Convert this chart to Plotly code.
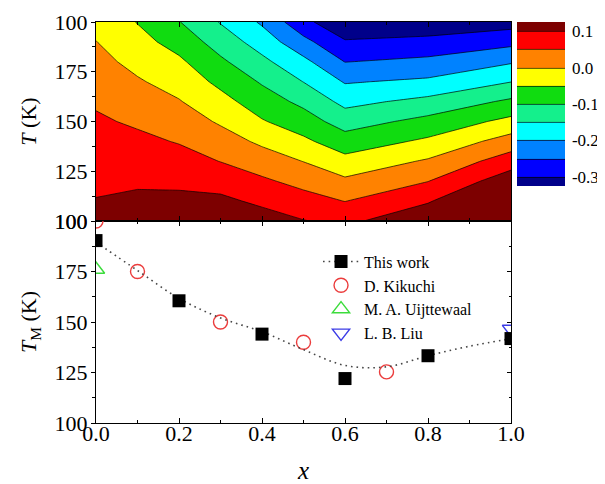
import plotly.graph_objects as go

# ---------------- data ----------------
# contour map (top panel): z values on a (T, x) grid
x_grid = [0.0, 0.1, 0.2, 0.3, 0.4, 0.5, 0.6, 0.8, 1.0]
T_grid = [100, 110, 120, 130, 140, 150, 160, 170, 180, 190, 200]
z_T100 = [0.114, 0.126, 0.134, 0.141, 0.123, 0.102, 0.088, 0.141, 0.239]
z_T110 = [0.102, 0.110, 0.112, 0.111, 0.090, 0.069, 0.049, 0.095, 0.185]
z_T120 = [0.091, 0.093, 0.090, 0.080, 0.058, 0.035, 0.009, 0.049, 0.130]
z_T130 = [0.080, 0.077, 0.069, 0.049, 0.025, -0.001, -0.034, 0.006, 0.076]
z_T140 = [0.068, 0.061, 0.047, 0.022, -0.009, -0.040, -0.078, -0.041, 0.022]
z_T150 = [0.057, 0.043, 0.025, -0.006, -0.046, -0.077, -0.122, -0.085, -0.036]
z_T160 = [0.044, 0.024, 0.003, -0.033, -0.076, -0.112, -0.164, -0.136, -0.091]
z_T170 = [0.030, 0.005, -0.019, -0.062, -0.105, -0.151, -0.204, -0.191, -0.151]
z_T180 = [0.015, -0.014, -0.041, -0.091, -0.138, -0.187, -0.251, -0.238, -0.205]
z_T190 = [0.001, -0.033, -0.069, -0.122, -0.172, -0.235, -0.295, -0.286, -0.264]
z_T200 = [-0.014, -0.052, -0.098, -0.153, -0.207, -0.286, -0.341, -0.334, -0.321]
z_rows = [z_T100, z_T110, z_T120, z_T130, z_T140, z_T150,
          z_T160, z_T170, z_T180, z_T190, z_T200]

level_start, level_end, level_step = -0.3, 0.1, 0.05
band_colors = ["#00008a", "#0000ff", "#0082ff", "#00ffff", "#14f08c",
               "#10dc10", "#ffff00", "#ff8200", "#ff0000", "#7d0000"]
cbar_tickvals = [-0.3, -0.2, -0.1, 0.0, 0.1]
cbar_ticktext = ["-0.3", "-0.2", "-0.1", "0.0", "0.1"]

# axes ticks
y_tickvals = [100, 125, 150, 175, 200]
y_ticktext = ["100", "125", "150", "175", "100"]
y_minor = [112.5, 137.5, 162.5, 187.5]
x_tickvals = [0.0, 0.2, 0.4, 0.6, 0.8, 1.0]
x_ticktext = ["0.0", "0.2", "0.4", "0.6", "0.8", "1.0"]
x_minor = [0.1, 0.3, 0.5, 0.7, 0.9]

# bottom panel: transition temperatures
this_x = [0.0, 0.2, 0.4, 0.6, 0.8, 1.0]
this_T = [190.3, 160.5, 144.0, 122.0, 133.3, 141.8]
fit_x = [0.0, 0.1, 0.2, 0.3, 0.4, 0.5, 0.6, 0.7, 0.8, 0.9, 1.0]
fit_T = [189.5, 175.5, 161.7, 152.0, 145.2, 136.3, 128.5, 127.8, 133.3, 138.0, 141.7]
kikuchi_x = [0.0, 0.1, 0.3, 0.5, 0.7]
kikuchi_T = [200.0, 175.0, 150.0, 140.0, 125.3]
uij_x = [0.0]
uij_T = [176.0]
liu_x = [1.0]
liu_T = [146.5]

# ---------------- figure ----------------
FONT = "Liberation Serif"
n = len(band_colors)
colorscale = [[i / (n - 1), c] for i, c in enumerate(band_colors)]

fig = go.Figure()

fig.add_trace(go.Contour(
    x=x_grid, y=T_grid, z=z_rows,
    xaxis="x", yaxis="y",
    colorscale=colorscale,
    autocontour=False,
    contours=dict(start=level_start, end=level_end, size=level_step,
                  coloring="fill", showlines=True),
    line=dict(color="rgba(0,0,0,0.85)", width=0.8, smoothing=0),
    colorbar=dict(
        x=1.0145, xanchor="left", xpad=0,
        y=1.0, yanchor="top", ypad=0,
        thickness=48, thicknessmode="pixels",
        len=164, lenmode="pixels",
        outlinewidth=0,
        tickmode="array", tickvals=cbar_tickvals, ticktext=cbar_ticktext,
        ticks="outside", ticklen=4, tickcolor="rgba(0,0,0,0)",
        tickfont=dict(family=FONT, size=17, color="black"),
    ),
    hoverinfo="skip",
))

# Liu first so the square covers it
fig.add_trace(go.Scatter(
    x=liu_x, y=liu_T, xaxis="x2", yaxis="y2", mode="markers",
    name="L. B. Liu",
    marker=dict(symbol="triangle-down-open", size=15,
                color="rgb(60,60,230)", line=dict(width=1.4)),
    legendrank=4,
))
fig.add_trace(go.Scatter(
    x=uij_x, y=uij_T, xaxis="x2", yaxis="y2", mode="markers",
    name="M. A. Uijttewaal",
    marker=dict(symbol="triangle-up-open", size=15,
                color="rgb(60,220,60)", line=dict(width=1.4)),
    legendrank=3,
))
fig.add_trace(go.Scatter(
    x=kikuchi_x, y=kikuchi_T, xaxis="x2", yaxis="y2", mode="markers",
    name="D. Kikuchi",
    marker=dict(symbol="circle-open", size=14,
                color="rgb(235,60,60)", line=dict(width=1.4)),
    legendrank=2,
))
fig.add_trace(go.Scatter(
    x=fit_x, y=fit_T, xaxis="x2", yaxis="y2", mode="lines",
    line=dict(shape="spline", color="rgb(70,70,70)", width=1.6, dash="1.6px,4px"),
    showlegend=False, hoverinfo="skip",
))
fig.add_trace(go.Scatter(
    x=this_x, y=this_T, xaxis="x2", yaxis="y2", mode="markers",
    marker=dict(symbol="square", size=13, color="black"),
    showlegend=False,
))
# legend entry for "This work" (dotted line + square)
fig.add_trace(go.Scatter(
    x=[None], y=[None], xaxis="x2", yaxis="y2", mode="lines+markers",
    name="This work",
    line=dict(color="rgb(70,70,70)", width=1.6, dash="1.6px,4px"),
    marker=dict(symbol="square", size=13, color="black"),
    legendrank=1,
))
# helper axis for inside ticks on the right of the lower panel
fig.add_trace(go.Scatter(
    x=[None], y=[None], xaxis="x2", yaxis="y3", mode="markers",
    showlegend=False, hoverinfo="skip",
))

split = 202 / 401
axis_common = dict(showgrid=False, zeroline=False, showline=True,
                   linecolor="black", linewidth=1.2,
                   tickcolor="black", tickwidth=1.2, automargin=False,
                   tickfont=dict(family=FONT, size=22, color="black"))

# the page body adds an 8 px offset, so the figure is 8 px smaller
fig.update_layout(
    width=597, height=476,
    margin=dict(l=88, r=94, t=14, b=61, autoexpand=False),
    paper_bgcolor="white", plot_bgcolor="white",
    font=dict(family=FONT, color="black"),
    showlegend=True,
    legend=dict(x=0.535, y=0.445, xanchor="left", yanchor="top",
                bgcolor="rgba(0,0,0,0)", borderwidth=0,
                font=dict(family=FONT, size=16, color="black"),
                itemwidth=36, tracegroupgap=0),
    xaxis=dict(domain=[0, 1], anchor="y", range=[0, 1],
               tickmode="array", tickvals=x_tickvals, ticktext=x_ticktext,
               showticklabels=False, ticks="inside", ticklen=5, mirror="ticks",
               minor=dict(tickmode="array", tickvals=x_minor, ticks="inside",
                          ticklen=3, tickcolor="black", tickwidth=1.0),
               **axis_common),
    yaxis=dict(domain=[split, 1], anchor="x", range=[100, 200],
               tickmode="array", tickvals=y_tickvals, ticktext=y_ticktext,
               ticks="outside", ticklen=4, mirror=True, ticklabelstandoff=-1,
               minor=dict(tickmode="array", tickvals=y_minor, ticks="outside",
                          ticklen=2.5, tickcolor="black", tickwidth=1.0),
               title=dict(text="<i>T</i> (K)", standoff=11,
                          font=dict(family=FONT, size=22, color="black")),
               **axis_common),
    xaxis2=dict(domain=[0, 1], anchor="y2", range=[0, 1],
                tickmode="array", tickvals=x_tickvals, ticktext=x_ticktext,
                ticks="inside", ticklen=5, mirror="ticks", ticklabelstandoff=-10,
                minor=dict(tickmode="array", tickvals=x_minor, ticks="inside",
                           ticklen=3, tickcolor="black", tickwidth=1.0),
                title=dict(text="<i>x</i>", standoff=22,
                           font=dict(family=FONT, size=25, color="black")),
                **axis_common),
    yaxis2=dict(domain=[0, split], anchor="x2", range=[100, 200],
                tickmode="array", tickvals=y_tickvals, ticktext=y_ticktext,
                ticks="outside", ticklen=4, mirror=True, ticklabelstandoff=-1,
                minor=dict(tickmode="array", tickvals=y_minor, ticks="outside",
                           ticklen=2.5, tickcolor="black", tickwidth=1.0),
                title=dict(text="<i>T</i><sub>M</sub> (K)", standoff=11,
                           font=dict(family=FONT, size=22, color="black")),
                **axis_common),
    yaxis3=dict(overlaying="y2", side="right", anchor="x2", range=[100, 200],
                showgrid=False, zeroline=False, showline=False, automargin=False,
                tickmode="array", tickvals=y_tickvals, showticklabels=False,
                ticks="inside", ticklen=4, tickcolor="black", tickwidth=1.2,
                minor=dict(tickmode="array", tickvals=y_minor, ticks="inside",
                           ticklen=2.5, tickcolor="black", tickwidth=1.0)),
)

fig.write_html("out.html")
